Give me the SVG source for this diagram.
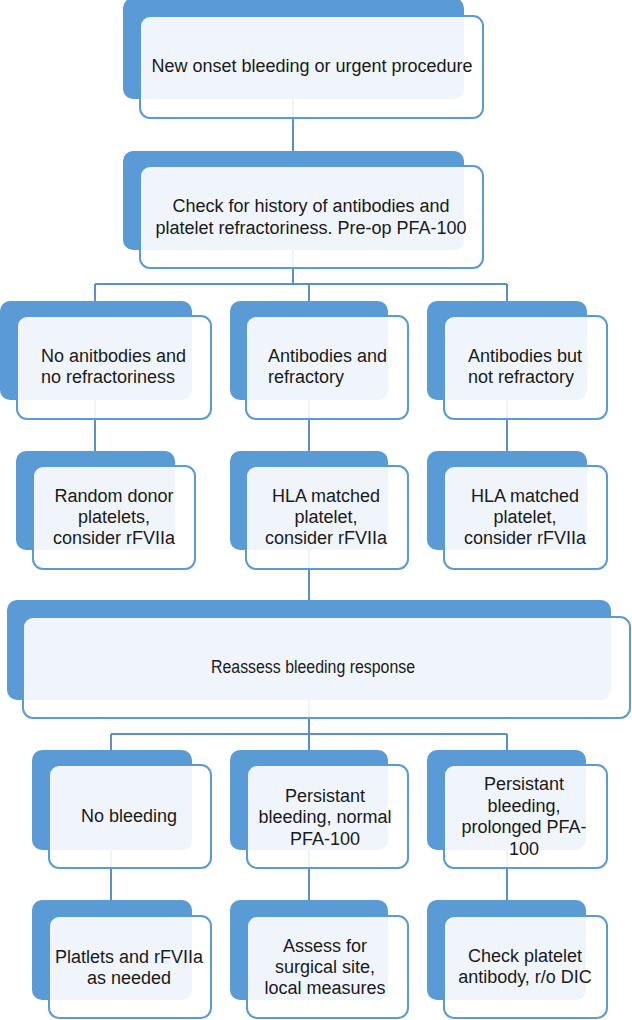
<svg xmlns="http://www.w3.org/2000/svg" width="632" height="1020" viewBox="0 0 632 1020">
<style>
.bg{fill:#ffffff}
.back{fill:#5b9bd5}
.front{fill:#ffffff;fill-opacity:0.9;stroke:#5b9bd5;stroke-width:2}
.conn{fill:none;stroke:#5b8fc8;stroke-width:2}
text{font-family:"Liberation Sans",Arial,sans-serif;font-size:18px;fill:#1a1a1a}
.c{text-anchor:middle}
</style>
<rect class="bg" x="0" y="0" width="632" height="1020"/>
<g id="connectors">
<path class="conn" d="M293 99 V151"/>
<path class="conn" d="M293 250 V284 M95 284 H507 M95 284 V301 M309 284 V301 M507 284 V301"/>
<path class="conn" d="M95 400 V451 M309 400 V451 M507 400 V451"/>
<path class="conn" d="M309 550 V600"/>
<path class="conn" d="M309 700 V734 M111 734 H507 M111 734 V750 M309 734 V750 M507 734 V750"/>
<path class="conn" d="M111 850 V900 M309 850 V900 M507 850 V900"/>
</g>
<g id="n1">
<rect class="back" x="123" y="-2" width="341" height="101" rx="10"/>
<rect class="front" x="140" y="16" width="343" height="102" rx="10"/>
<text class="c" x="312" y="72">New onset bleeding or urgent procedure</text>
</g>
<g id="n2">
<rect class="back" x="123" y="151" width="341" height="99" rx="10"/>
<rect class="front" x="140" y="166" width="343" height="102" rx="10"/>
<text class="c" x="311" y="212">Check for history of antibodies and</text>
<text class="c" x="311" y="234">platelet refractoriness. Pre-op PFA-100</text>
</g>
<g id="n3a">
<rect class="back" x="0" y="301" width="192" height="99" rx="10"/>
<rect class="front" x="17" y="316" width="194" height="103" rx="10"/>
<text x="41" y="362">No anitbodies and</text>
<text x="41" y="383">no refractoriness</text>
</g>
<g id="n3b">
<rect class="back" x="230" y="301" width="158" height="99" rx="10"/>
<rect class="front" x="246" y="316" width="162" height="103" rx="10"/>
<text x="268" y="362">Antibodies and</text>
<text x="268" y="383">refractory</text>
</g>
<g id="n3c">
<rect class="back" x="427" y="301" width="160" height="99" rx="10"/>
<rect class="front" x="444" y="316" width="163" height="103" rx="10"/>
<text x="468" y="362">Antibodies but</text>
<text x="468" y="383">not refractory</text>
</g>
<g id="n4a">
<rect class="back" x="16" y="451" width="159" height="99" rx="10"/>
<rect class="front" x="33" y="466" width="162" height="103" rx="10"/>
<text class="c" x="114" y="502">Random donor</text>
<text class="c" x="114" y="523">platelets,</text>
<text class="c" x="114" y="544">consider rFVIIa</text>
</g>
<g id="n4b">
<rect class="back" x="230" y="451" width="158" height="99" rx="10"/>
<rect class="front" x="246" y="466" width="162" height="103" rx="10"/>
<text class="c" x="326" y="502">HLA matched</text>
<text class="c" x="326" y="523">platelet,</text>
<text class="c" x="326" y="544">consider rFVIIa</text>
</g>
<g id="n4c">
<rect class="back" x="427" y="451" width="160" height="99" rx="10"/>
<rect class="front" x="444" y="466" width="163" height="103" rx="10"/>
<text class="c" x="525" y="502">HLA matched</text>
<text class="c" x="525" y="523">platelet,</text>
<text class="c" x="525" y="544">consider rFVIIa</text>
</g>
<g id="n5">
<rect class="back" x="7" y="600" width="604" height="100" rx="10"/>
<rect class="front" x="23" y="617" width="607" height="101" rx="10"/>
<text class="c" x="313" y="673" textLength="204" lengthAdjust="spacingAndGlyphs">Reassess bleeding response</text>
</g>
<g id="n6a">
<rect class="back" x="32" y="750" width="160" height="100" rx="10"/>
<rect class="front" x="49" y="765" width="162" height="103" rx="10"/>
<text class="c" x="129" y="822">No bleeding</text>
</g>
<g id="n6b">
<rect class="back" x="230" y="750" width="158" height="100" rx="10"/>
<rect class="front" x="247" y="765" width="161" height="103" rx="10"/>
<text class="c" x="325" y="802">Persistant</text>
<text class="c" x="325" y="823">bleeding, normal</text>
<text class="c" x="325" y="845">PFA-100</text>
</g>
<g id="n6c">
<rect class="back" x="427" y="750" width="159" height="100" rx="10"/>
<rect class="front" x="444" y="765" width="163" height="103" rx="10"/>
<text class="c" x="524" y="790">Persistant</text>
<text class="c" x="524" y="812">bleeding,</text>
<text class="c" x="524" y="833">prolonged PFA-</text>
<text class="c" x="524" y="855">100</text>
</g>
<g id="n7a">
<rect class="back" x="32" y="900" width="160" height="100" rx="10"/>
<rect class="front" x="49" y="916" width="162" height="102" rx="10"/>
<text class="c" x="129" y="963">Platlets and rFVIIa</text>
<text class="c" x="129" y="984">as needed</text>
</g>
<g id="n7b">
<rect class="back" x="230" y="900" width="158" height="100" rx="10"/>
<rect class="front" x="247" y="916" width="161" height="102" rx="10"/>
<text class="c" x="325" y="952">Assess for</text>
<text class="c" x="325" y="973">surgical site,</text>
<text class="c" x="325" y="994">local measures</text>
</g>
<g id="n7c">
<rect class="back" x="427" y="900" width="159" height="100" rx="10"/>
<rect class="front" x="444" y="916" width="163" height="102" rx="10"/>
<text class="c" x="525" y="962">Check platelet</text>
<text class="c" x="525" y="983">antibody, r/o DIC</text>
</g>
</svg>
